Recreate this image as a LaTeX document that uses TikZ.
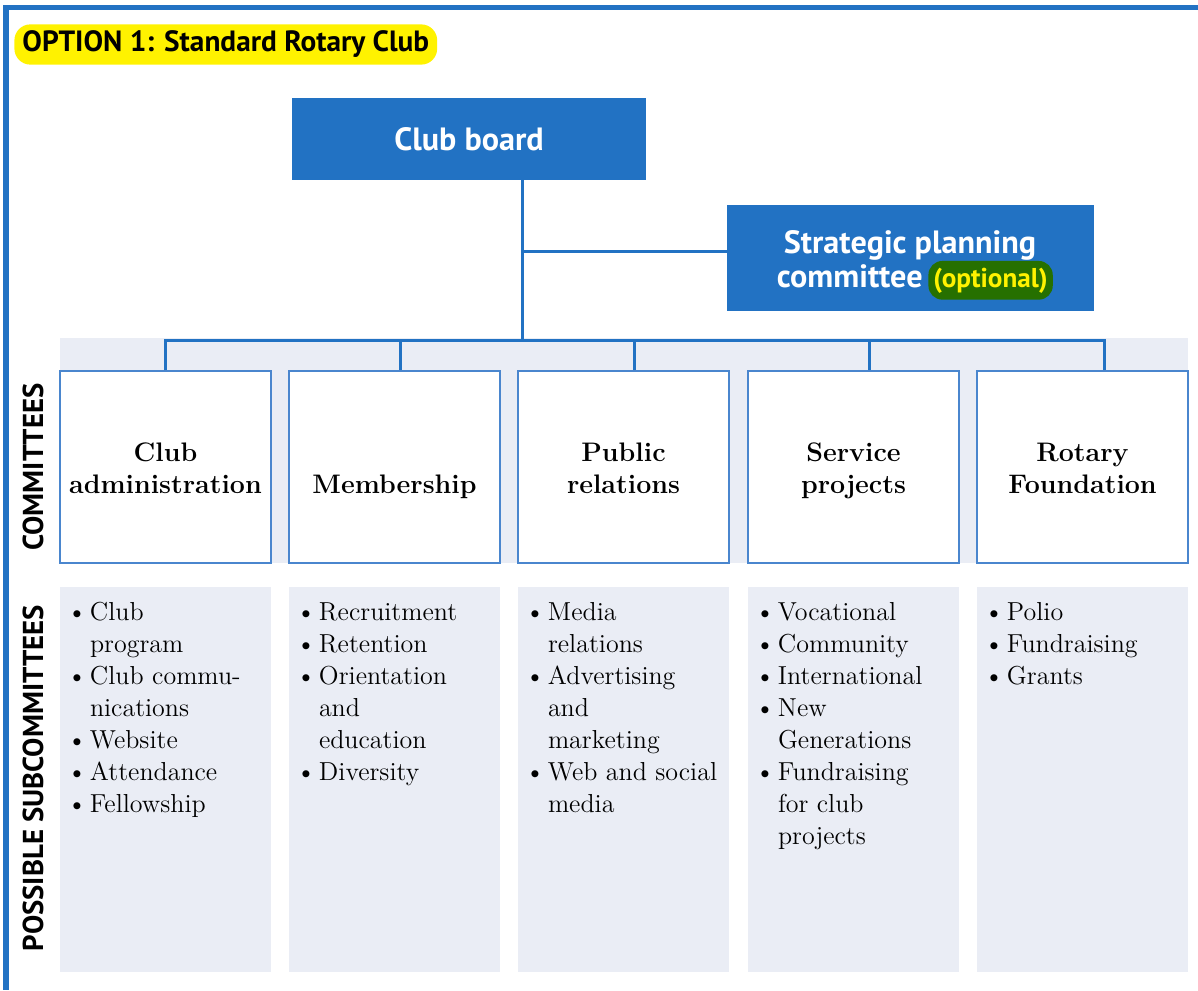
\documentclass[tikz,border=0pt]{standalone}
\usepackage{fontspec}
\newfontfamily\headfont{PT Sans}
\usepackage{tikz}
\usetikzlibrary{positioning}

\definecolor{rblue}{RGB}{34,114,195}
\definecolor{lblue}{RGB}{74,134,206}
\definecolor{band}{RGB}{234,237,245}
\definecolor{optgreen}{RGB}{38,112,0}

\newcommand{\bl}{\makebox[11.5pt][l]{\textbullet}}
\newcommand{\nb}{\hspace*{11.5pt}}
\newcommand{\tp}{\rule{0pt}{15.2pt}}

\tikzset{
  bluebox/.style={fill=rblue, text=white, align=center, inner sep=0pt,
    font=\headfont\bfseries\fontsize{16.1}{19}\selectfont},
  conn/.style={draw=rblue, line width=1.5pt},
  cbox/.style={draw=lblue, line width=0.8pt, fill=white, align=center,
    minimum width=105.5pt, minimum height=96pt,
    font=\bfseries\fontsize{13.4}{16}\selectfont},
  sbox/.style={fill=band, minimum width=105.5pt, minimum height=192.5pt},
  sublist/.style={anchor=north west, align=left, inner sep=0pt,
    font=\fontsize{13}{16}\selectfont},
  sidelabel/.style={rotate=90, font=\headfont\bfseries\fontsize{14.4}{16}\selectfont}
}

\begin{document}
\begin{tikzpicture}[x=0.5pt,y=-0.5pt]
    \useasboundingbox (0,0) rectangle (1198,990);
    \fill[rblue] (3,5) rectangle (1198,10);
    \fill[rblue] (3,5) rectangle (9,990);
    \node[fill=yellow, rounded corners=8pt, inner xsep=4pt, minimum height=17.5pt,
      anchor=west, font=\headfont\bfseries\fontsize{14.65}{17}\selectfont]
      (title) at (14,44.5) {OPTION 1: Standard Rotary Club};
    % board and planning committee
    \node[bluebox, minimum width=177pt, minimum height=41pt] (board) at (469,139) {Club board};
    \node[bluebox, minimum width=183.5pt, minimum height=53pt] (strat) at (910.5,258) {};
    \node[bluebox, fill=none, anchor=base] (stratA) at (910,253) {Strategic planning};
    \node[bluebox, fill=none, anchor=base east] (stratB) at (923,287) {committee};
    \node[fill=optgreen, text=yellow, rounded corners=7pt, inner xsep=2.5pt, minimum height=16pt,
      anchor=base west, font=\headfont\bfseries\fontsize{13.6}{15}\selectfont]
      (opt) at ([xshift=2.5pt]stratB.base east) {(optional)};
    % committees
    \fill[band] (60,338) rectangle (1188,563);
    \node[cbox] (adm) at (165.5,467) {\tp Club\\administration\strut};
    \node[cbox] (mem) at (394.5,467) {\tp\\Membership\strut};
    \node[cbox] (pr) at (623.5,467) {\tp Public\\relations\strut};
    \node[cbox] (svc) at (853.5,467) {\tp Service\\projects\strut};
    \node[cbox] (rf) at (1082.5,467) {\tp Rotary\\Foundation\strut};
    \coordinate (trunk) at (522,340);
    \coordinate (branch) at (522,251);
    \draw[conn] (board.south -| trunk) -- (trunk);
    \draw[conn] (branch) -- (branch -| strat.west);
    \foreach \x/\n in {165/adm,400/mem,634/pr,869/svc,1104/rf}{
      \coordinate (d\n) at (\x,340);
      \draw[conn] (d\n) -- (d\n |- \n.north);
    }
    \draw[conn] (dadm |- adm.north) -- (dadm) -- (drf) -- (drf |- rf.north);
    % subcommittees
    \node[sbox] (padm) at (165.5,779.5) {};
    \node[sbox] (pmem) at (394.5,779.5) {};
    \node[sbox] (ppr) at (623.5,779.5) {};
    \node[sbox] (psvc) at (853.5,779.5) {};
    \node[sbox] (prf) at (1082.5,779.5) {};
    \node[sublist] (ladm) at ([xshift=3.5pt,yshift=-5.5pt]padm.north west)
      {\strut\bl Club\\\nb program\\\bl Club commu-\\\nb nications\\\bl Website\\\bl Attendance\\\bl Fellowship};
    \node[sublist] (lmem) at ([xshift=3.5pt,yshift=-5.5pt]pmem.north west)
      {\strut\bl Recruitment\\\bl Retention\\\bl Orientation\\\nb and\\\nb education\\\bl Diversity};
    \node[sublist] (lpr) at ([xshift=3.5pt,yshift=-5.5pt]ppr.north west)
      {\strut\bl Media\\\nb relations\\\bl Advertising\\\nb and\\\nb marketing\\\bl Web and social\\\nb media};
    \node[sublist] (lsvc) at ([xshift=3.5pt,yshift=-5.5pt]psvc.north west)
      {\strut\bl Vocational\\\bl Community\\\bl International\\\bl New\\\nb Generations\\\bl Fundraising\\\nb for club\\\nb projects};
    \node[sublist] (lrf) at ([xshift=3.5pt,yshift=-5.5pt]prf.north west)
      {\strut\bl Polio\\\bl Fundraising\\\bl Grants};
    \node[sidelabel] (lcom) at (33,467) {COMMITTEES};
    \node[sidelabel] (lsub) at (33,778) {POSSIBLE SUBCOMMITTEES};
\end{tikzpicture}
\end{document}
